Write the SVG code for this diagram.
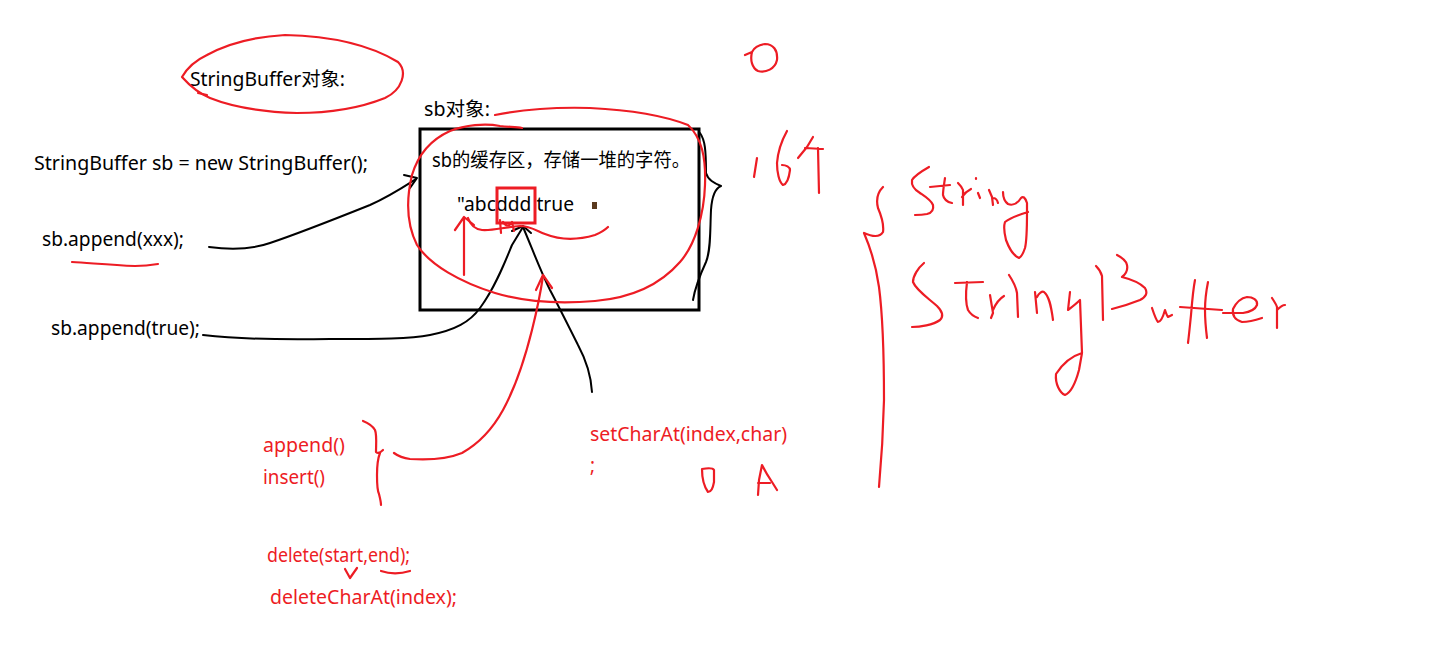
<svg xmlns="http://www.w3.org/2000/svg" width="1434" height="661" viewBox="0 0 1434 661">
<style>
text{font-family:"Noto Sans","Noto Sans CJK SC",sans-serif;font-size:19px;fill:#000}
.r{fill:#ed1c24}
.rs{fill:none;stroke:#ed1c24;stroke-width:2.2;stroke-linecap:round;stroke-linejoin:round}
.bs{fill:none;stroke:#000;stroke-width:2;stroke-linecap:round;stroke-linejoin:round}
</style>
<rect width="1434" height="661" fill="#fff"/>
<g id="texts">
<text x="190" y="86" textLength="155" lengthAdjust="spacingAndGlyphs">StringBuffer对象:</text>
<text x="424" y="116" textLength="66" lengthAdjust="spacingAndGlyphs">sb对象:</text>
<text x="432" y="167" textLength="258" lengthAdjust="spacingAndGlyphs">sb的缓存区，存储一堆的字符。</text>
<text x="457" y="211" textLength="117" lengthAdjust="spacingAndGlyphs">"abcddd true</text>
<text x="34" y="170" textLength="334" lengthAdjust="spacingAndGlyphs">StringBuffer sb = new StringBuffer();</text>
<text x="42" y="246" textLength="142" lengthAdjust="spacingAndGlyphs">sb.append(xxx);</text>
<text x="51" y="335" textLength="149" lengthAdjust="spacingAndGlyphs">sb.append(true);</text>
<text class="r" x="263" y="452" textLength="82" lengthAdjust="spacingAndGlyphs">append()</text>
<text class="r" x="263" y="484" textLength="62" lengthAdjust="spacingAndGlyphs">insert()</text>
<text class="r" x="590" y="441" textLength="197" lengthAdjust="spacingAndGlyphs">setCharAt(index,char)</text>
<text class="r" x="590" y="472">;</text>
<text class="r" x="267" y="562" textLength="143" lengthAdjust="spacingAndGlyphs">delete(start,end);</text>
<text class="r" x="270" y="604" textLength="187" lengthAdjust="spacingAndGlyphs">deleteCharAt(index);</text>
</g>
<g id="buffer">
<rect x="420" y="129" width="279" height="181" fill="none" stroke="#000" stroke-width="3"/>
<rect x="592" y="202" width="5" height="7" fill="#5a3a1e"/>
<rect x="497" y="188" width="38" height="35" fill="none" stroke="#ed1c24" stroke-width="3"/>
</g>
<g id="connectors">
<path class="bs" d="M209,247 C230,250 250,250 270,243 C300,233 340,217 370,205 C390,196 405,186 416,179"/>
<path class="bs" d="M404,175 L417,178 L410,188"/>
<path class="bs" d="M203,335 C230,338 280,340 330,339 C380,339 410,339 430,335 C455,330 470,322 480,308 C495,288 505,262 512,245 L523,227"/>
<path class="bs" d="M592,392 C591,375 585,358 578,345 C568,325 558,305 550,290 C540,270 532,248 523,227"/>
<path class="bs" d="M512,231 L523,226 L531,233"/>
<path class="bs" d="M700,133 C705,140 706,150 706,173 C708,180 714,183 721,186 C716,188 712,195 711,210 C710,230 711,250 706,262 C700,275 695,288 693,300"/>
</g>
<g id="red-marks">
<path class="rs" d="M207,55 C225,45 250,37 285,35 C330,36 370,45 398,62 C408,72 402,90 385,98 C360,108 330,113 297,113 C265,112 235,108 210,98 C198,93 190,86 182,77 C186,70 192,62 207,55"/>
<path class="rs" d="M198,93 L207,95"/>
<path class="rs" d="M495,115 C520,110 555,107 590,108 C630,110 665,116 688,125 C702,138 706,158 705,185 C704,215 695,245 680,262 C660,285 630,298 595,301 C560,304 525,302 495,293 C460,282 430,265 417,245 C407,225 406,200 412,175 C418,155 430,140 450,131 C465,125 485,123 500,126 C510,127 517,127 522,128"/>
<path class="rs" d="M72,262 C90,263 110,265 135,266 C145,266 152,265 158,264"/>
<path class="rs" d="M468,218 C470,224 474,229 482,230 C492,231 505,227 520,226 C530,226 537,231 545,234 C560,240 578,240 595,235 C602,232 606,229 608,227"/>
<path class="rs" d="M464,275 L464,218 M455,230 L464,217 L474,225"/>
<path class="rs" d="M500,220 L501,233 M503,222 Q508,229 512,222 L514,231"/>
<path class="rs" d="M394,453 C398,456 402,458 410,459 C425,460 445,460 462,453 C478,444 492,430 503,410 C515,388 525,358 532,330 C537,310 541,290 543,276"/>
<path class="rs" d="M536,290 L543,275 L552,288"/>
<path class="rs" d="M363,421 C368,423 372,425 375,430 C377,435 376,445 376,452 C378,454 381,452 383,450 M380,453 C378,458 377,465 377,475 C377,485 377,490 379,494 C380,498 381,502 381,505"/>
<path class="rs" d="M345,569 L350,578 L357,568"/>
<path class="rs" d="M381,571 C390,574 400,574 410,571"/>
<path class="rs" d="M702,469 C702,476 703,485 708,492 C711,492 713,488 714,482 L714,470 C713,468 708,468 702,469"/>
<path class="rs" d="M758,495 L759,480 L762,465 C764,469 768,476 772,482 L777,490 M758,483 L770,483"/>
<path class="rs" d="M745,55 L752,52 M752,52 C750,60 752,68 758,71 C766,73 775,69 777,60 C778,50 773,44 765,44 C758,45 754,48 752,52"/>
<path class="rs" d="M757,158 L754,177"/>
<path class="rs" d="M787,131 C782,140 778,150 777,163 C777,172 779,182 783,185 C787,184 789,178 790,170 C790,167 786,165 782,165"/>
<path class="rs" d="M813,137 L807,147 L798,158 M805,148 L823,149 M818,148 L819,193"/>
<path class="rs" d="M883,187 C878,192 876,200 878,208 C881,215 884,225 883,232 C880,237 873,237 864,233 C870,247 876,265 879,287 C882,310 884,340 884,400 C883,440 881,465 879,487"/>
<path class="rs" d="M929,167 C922,171 915,175 912,180 C911,186 915,190 920,193 C926,197 931,200 933,205 C934,210 931,213 927,214 C922,215 918,215 915,215"/>
<path class="rs" d="M945,178 C944,185 943,190 943,195 C944,200 947,202 952,203 M930,187 L950,185"/>
<path class="rs" d="M958,183 C960,185 962,187 963,190 L963,205 M962,197 C964,194 967,191 971,189"/>
<path class="rs" d="M976,178 L976,179 M978,193 L980,198"/>
<path class="rs" d="M989,190 L992,197 L993,205 M993,198 C995,198 997,199 998,203"/>
<path class="rs" d="M1003,192 C1003,197 1004,201 1008,204 C1013,206 1018,203 1021,198 C1023,196 1025,197 1027,203 L1027,212 C1027,225 1027,240 1025,248 C1023,254 1021,257 1019,258 C1014,256 1009,248 1006,240 C1004,232 1004,225 1005,222 C1010,218 1018,215 1028,212"/>
<path class="rs" d="M924,263 C918,268 913,276 913,282 C916,290 928,298 937,306 C942,311 944,316 940,320 C933,325 920,327 912,327"/>
<path class="rs" d="M967,282 C966,290 965,302 968,310 C971,315 975,317 978,318 M955,283 L983,282"/>
<path class="rs" d="M990,295 L993,313 L991,318 M993,310 C996,303 999,299 1004,296"/>
<path class="rs" d="M1009,275 C1013,281 1016,287 1017,293 L1018,317"/>
<path class="rs" d="M1035,292 L1037,313 M1037,297 C1039,293 1042,291 1044,292 C1049,296 1051,305 1053,320"/>
<path class="rs" d="M1070,292 L1068,310 C1072,307 1076,304 1080,300 L1082,353 C1072,356 1063,363 1056,374 C1055,384 1060,393 1065,395 C1070,393 1075,385 1079,370 L1082,353"/>
<path class="rs" d="M1096,266 C1099,269 1101,272 1102,276 L1103,320"/>
<path class="rs" d="M1117,255 C1121,257 1126,260 1127,265 C1128,270 1126,274 1122,277 C1130,279 1140,283 1145,288 C1148,293 1146,297 1140,300 C1130,304 1120,307 1112,309"/>
<path class="rs" d="M1152,308 C1154,314 1156,320 1158,322 C1161,322 1163,317 1165,310 C1166,313 1167,316 1168,317 L1172,315"/>
<path class="rs" d="M1195,280 C1193,290 1192,303 1191,315 C1190,325 1189,335 1188,343 M1180,307 L1222,310"/>
<path class="rs" d="M1208,282 C1206,292 1205,300 1205,310 C1205,322 1206,330 1207,338"/>
<path class="rs" d="M1223,313 L1243,313 C1250,312 1255,310 1257,305 C1258,300 1253,297 1247,297 C1241,298 1236,303 1233,309 C1232,316 1235,320 1242,322 C1250,322 1256,320 1262,318"/>
<path class="rs" d="M1272,298 C1274,301 1276,304 1277,307 L1277,328 M1277,310 C1280,307 1282,305 1285,305"/>
</g>
</svg>
